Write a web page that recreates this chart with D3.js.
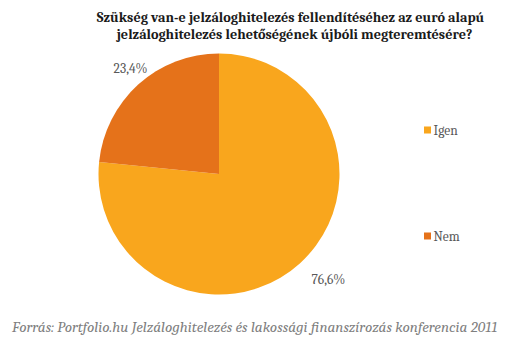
<!DOCTYPE html>
<html><head><meta charset="utf-8">
<script src="https://cdn.jsdelivr.net/npm/d3@7"></script>
<style>body{margin:0;background:#fff}svg{display:block}</style>
</head><body>
<script>
const categories = ["Igen", "Nem"];
const values = [76.6, 23.4];
const valueLabels = ["76,6%", "23,4%"];
const colors = ["#F9A61D", "#E5721A"];
const titleLines = ["Szükség van-e jelzáloghitelezés fellendítéséhez az euró alapú", "jelzáloghitelezés lehetőségének újbóli megteremtésére?"];
const source = "Forrás: Portfolio.hu Jelzáloghitelezés és lakossági finanszírozás konferencia 2011";

const W = 531, H = 342;
const svg = d3.select("body").append("svg").attr("width", W).attr("height", H);
const serif = "Cambria, Caladea, 'DejaVu Serif', serif";

const titleX = [290.5, 294.5];
const titleY = [21.5, 38.5];
svg.selectAll("text.title").data(titleLines).enter().append("text")
  .attr("class","title")
  .attr("x", (d,i)=>titleX[i]).attr("y", (d,i)=>titleY[i])
  .attr("text-anchor","middle")
  .attr("font-family", serif).attr("font-weight","bold").attr("font-size", 14.2)
  .attr("fill","#1a1a1a").text(d=>d);

const cx = 219, cy = 174, r = 120.5;
const pie = d3.pie().sort(null).value(d=>d)(values);
const arc = d3.arc().innerRadius(0).outerRadius(r);
const g = svg.append("g").attr("transform", `translate(${cx},${cy})`);
g.selectAll("path").data(pie).enter().append("path")
  .attr("d", arc).attr("fill", (d,i)=>colors[i]);

const labelArc = d3.arc().innerRadius(r*1.18).outerRadius(r*1.18);
g.selectAll("text.lbl").data(pie).enter().append("text")
  .attr("class","lbl")
  .attr("transform", (d,i)=>{
    const [x,y] = labelArc.centroid(d);
    return `translate(${x + (i===0 ? 14 : 7)},${y})`;
  })
  .attr("text-anchor","middle").attr("dy","0.35em")
  .attr("font-family", serif).attr("font-size", 13.5)
  .attr("fill","#595959").text((d,i)=>valueLabels[i]);

const legendY = [130, 236];
const lg = svg.selectAll("g.leg").data(categories).enter().append("g")
  .attr("class","leg").attr("transform",(d,i)=>`translate(424,${legendY[i]})`);
lg.append("rect").attr("x",0).attr("y",-3.5).attr("width",7).attr("height",7).attr("fill",(d,i)=>colors[i]);
lg.append("text").attr("x",9.5).attr("y",4.5)
  .attr("font-family", serif).attr("font-size", 13.5).attr("fill","#595959").text(d=>d);

svg.append("text").attr("x", 12).attr("y", 331.5)
  .attr("font-family", serif).attr("font-style","italic").attr("font-size", 15.2)
  .attr("fill","#7f7f7f").text(source);
</script>
</body></html>
